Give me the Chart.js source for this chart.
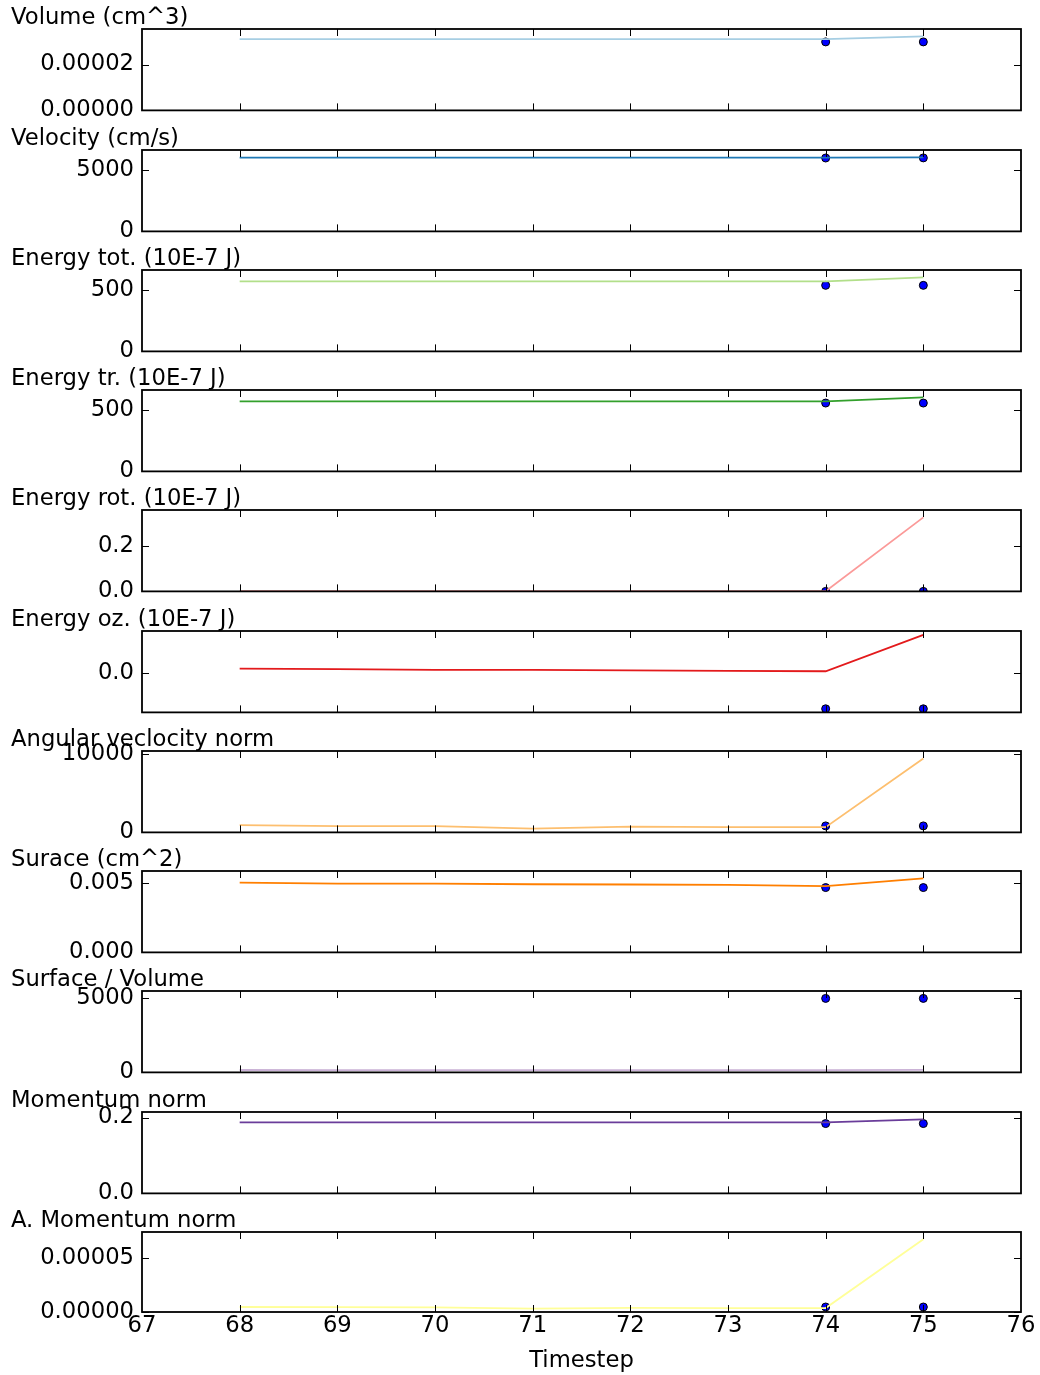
<!DOCTYPE html>
<html><head><meta charset="utf-8">
<script src="https://cdn.jsdelivr.net/npm/chart.js@4.4.0/dist/chart.umd.min.js"></script>
<style>
html,body{margin:0;padding:0;background:#fff;}
body{width:1040px;height:1375px;position:relative;overflow:hidden;}
.p{position:absolute;left:0;width:1040px;}
</style>
</head><body>
<script>
// ---- data ----
const timesteps = [68, 69, 70, 71, 72, 73, 74, 75];
const dotTimesteps = [74, 75];
const xTicks = [67, 68, 69, 70, 71, 72, 73, 74, 75, 76];

const volume = [3.11e-5, 3.11e-5, 3.11e-5, 3.11e-5, 3.11e-5, 3.11e-5, 3.11e-5, 3.23e-5];
const volumeDots = [2.99e-5, 2.99e-5];
const velocity = [6035, 6035, 6035, 6035, 6035, 6035, 6035, 6050];
const velocityDots = [6000, 6010];
const energyTot = [573, 573, 573, 573, 573, 573, 573, 605];
const energyTotDots = [540, 540];
const energyTr = [570, 570, 570, 570, 570, 570, 570, 603];
const energyTrDots = [557, 557];
const energyRot = [0.0008, 0.0008, 0.0008, 0.0008, 0.0008, 0.0008, 0.0008, 0.326];
const energyRotDots = [0, 0];
const energyOz = [0.0083, 0.0072, 0.0060, 0.0058, 0.0048, 0.0039, 0.0033, 0.0727];
const energyOzDots = [-0.0682, -0.0682];
const angularVelocity = [925, 800, 800, 470, 730, 680, 670, 9470];
const angularVelocityDots = [830, 830];
const surface = [0.00502, 0.00495, 0.00494, 0.00490, 0.00488, 0.00486, 0.00476, 0.00532];
const surfaceDots = [0.00466, 0.00466];
const surfaceVolume = [161, 159, 159, 158, 157, 156, 153, 165];
const surfaceVolumeDots = [5000, 5000];
const momentum = [0.1873, 0.1873, 0.1873, 0.1873, 0.1873, 0.1873, 0.1873, 0.1950];
const momentumDots = [0.184, 0.184];
const angularMomentum = [4.6e-6, 4.4e-6, 4.2e-6, 3.2e-6, 3.8e-6, 3.6e-6, 3.6e-6, 6.7e-5];
const angularMomentumDots = [4.6e-6, 4.6e-6];

const titles = ["Volume (cm^3)", "Velocity (cm/s)", "Energy tot. (10E-7 J)", "Energy tr. (10E-7 J)",
  "Energy rot. (10E-7 J)", "Energy oz. (10E-7 J)", "Angular veclocity norm", "Surace (cm^2)",
  "Surface / Volume", "Momentum norm", "A. Momentum norm"];
const colors = ['#a6cee3', '#1f78b4', '#b2df8a', '#33a02c', '#fb9a99', '#e31a1c', '#fdbf6f', '#ff7f00', '#cab2d6', '#6a3d9a', '#ffff99'];

const yTickValues = [[0, 0.00002], [0, 5000], [0, 500], [0, 500], [0, 0.2], [0], [0, 10000], [0, 0.005], [0, 5000], [0, 0.2], [0, 0.00005]];
const yTickLabels = [["0.00000", "0.00002"], ["0", "5000"], ["0", "500"], ["0", "500"], ["0.0", "0.2"], ["0.0"], ["0", "10000"], ["0.000", "0.005"], ["0", "5000"], ["0.0", "0.2"], ["0.00000", "0.00005"]];

const lines = [volume, velocity, energyTot, energyTr, energyRot, energyOz, angularVelocity, surface, surfaceVolume, momentum, angularMomentum];
const dots = [volumeDots, velocityDots, energyTotDots, energyTrDots, energyRotDots, energyOzDots, angularVelocityDots, surfaceDots, surfaceVolumeDots, momentumDots, angularMomentumDots];

// ---- layout ----
const panelTops = [29, 150, 270, 390, 510, 631, 751, 871, 991, 1112, 1232];
const PLOT_H = 80, TOP_PAD = 40;
const FONT = '"DejaVu Sans", "Liberation Sans", sans-serif';
const FS = 22.7;
Chart.defaults.font.family = FONT;
Chart.defaults.font.size = FS;
Chart.defaults.color = '#000';

const framePlugin = {
  id: 'frame',
  afterDatasetsDraw(chart, args, opts) {
    const {ctx, chartArea: a, scales} = chart;
    ctx.save();
    ctx.strokeStyle = '#000';
    ctx.lineWidth = 1;
    ctx.beginPath();
    const L = 7;
    xTicks.forEach(v => {
      const px = Math.round(scales.x.getPixelForValue(v)) + 0.5;
      if (px <= a.left + 1 || px >= a.right - 1) return;
      ctx.moveTo(px, a.top); ctx.lineTo(px, a.top + L);
      ctx.moveTo(px, a.bottom); ctx.lineTo(px, a.bottom - L);
    });
    opts.yticks.forEach(v => {
      const py = Math.round(scales.y.getPixelForValue(v)) + 0.5;
      ctx.moveTo(a.left, py); ctx.lineTo(a.left + L, py);
      ctx.moveTo(a.right, py); ctx.lineTo(a.right - L, py);
    });
    ctx.stroke();
    ctx.lineWidth = 1.8;
    ctx.strokeRect(a.left, a.top, a.right - a.left, a.bottom - a.top);
    ctx.fillStyle = '#000';
    ctx.font = FS + 'px ' + FONT;
    ctx.textBaseline = 'alphabetic';
    ctx.textAlign = 'left';
    ctx.fillText(opts.title, 11, a.top - 5);
    ctx.restore();
  }
};

for (let k = 0; k < 11; k++) {
  const last = k === 10;
  const top = panelTops[k] - TOP_PAD;
  const height = last ? (1375 - top) : (TOP_PAD + PLOT_H + 23);
  const div = document.createElement('div');
  div.className = 'p';
  div.style.top = top + 'px';
  div.style.height = height + 'px';
  const cv = document.createElement('canvas');
  cv.width = 1040; cv.height = height;
  cv.style.width = '1040px'; cv.style.height = height + 'px';
  div.appendChild(cv);
  document.body.appendChild(div);

  const all = lines[k].concat(dots[k]);
  const yMax = 1.1 * Math.max(...all, 0);
  const yMin = Math.min(0, 1.1 * Math.min(...all));
  const xAxisH = last ? (height - TOP_PAD - PLOT_H) : 0;

  new Chart(cv, {
    type: 'line',
    data: {
      datasets: [
        {
          data: timesteps.map((x, i) => ({x, y: lines[k][i]})),
          borderColor: colors[k],
          borderWidth: 1.8,
          pointRadius: 0,
          fill: false,
          tension: 0,
          clip: 0
        },
        {
          data: dotTimesteps.map((x, i) => ({x, y: dots[k][i]})),
          showLine: false,
          pointRadius: 4,
          pointBackgroundColor: '#0000ff',
          pointBorderColor: '#000',
          pointBorderWidth: 1,
          clip: 0
        }
      ]
    },
    options: {
      responsive: false,
      animation: false,
      devicePixelRatio: 1,
      layout: {padding: {left: 0, right: 19, top: TOP_PAD, bottom: last ? 0 : 20}},
      plugins: {
        legend: {display: false},
        tooltip: {enabled: false},
        frame: {title: titles[k], yticks: yTickValues[k]}
      },
      scales: {
        x: {
          type: 'linear',
          min: 67, max: 76,
          grid: {display: false, drawTicks: false},
          border: {display: false},
          afterBuildTicks: s => { s.ticks = xTicks.map(v => ({value: v})); },
          afterFit: s => { s.height = xAxisH; },
          ticks: {display: last, padding: 0, maxRotation: 0, autoSkip: false},
          title: {display: last, text: 'Timestep', padding: {top: 0, bottom: 0}, font: {size: FS}}
        },
        y: {
          type: 'linear',
          min: yMin, max: yMax,
          grid: {display: false, drawTicks: false},
          border: {display: false},
          afterBuildTicks: s => { s.ticks = yTickValues[k].map(v => ({value: v})); },
          afterFit: s => { s.width = 142; },
          ticks: {padding: 8, callback: (v, i) => yTickLabels[k][i]}
        }
      }
    },
    plugins: [framePlugin]
  });
}
</script>
</body></html>
